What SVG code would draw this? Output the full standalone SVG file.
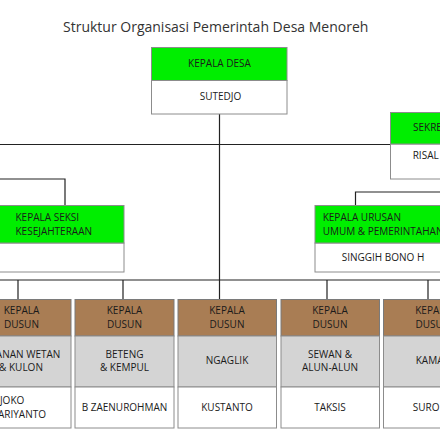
<svg xmlns="http://www.w3.org/2000/svg" width="440" height="440" viewBox="0 0 440 440">
<style>
text{font-family:"Open Sans","Liberation Sans",sans-serif;font-size:10px;fill:#1a1a1a}
.title{font-size:14px;fill:#333}
.c{text-anchor:middle}
.e{text-anchor:end}
.g{fill:#00ee00;stroke:#8c8c8c;stroke-width:1}
.w{fill:#fff;stroke:#8c8c8c;stroke-width:1}
.b{fill:#a97d54;stroke:#7a7a7a;stroke-width:1}
.s{fill:#d4d4d4;stroke:#8c8c8c;stroke-width:1}
.ln{fill:none;stroke:#222;stroke-width:1.2}
</style>
<rect width="440" height="440" fill="#fff"/>
<text class="title" x="63" y="31.5">Struktur Organisasi Pemerintah Desa Menoreh</text>
<g id="connectors">
<path class="ln" d="M219.5 114V299M0 144.5H390.5M0 280H440M65 206V179H0M355.5 206V192H440M18 280V299M123 280V299M327 280V299M428 280V299"/>
</g>
<g id="kepala-desa">
<rect class="w" x="151.5" y="80.5" width="135.5" height="33.5"/>
<rect class="g" x="151.5" y="47.5" width="135.5" height="33"/>
<text class="c" x="219.5" y="67">KEPALA DESA</text>
<text class="c" x="220.5" y="99.5">SUTEDJO</text>
</g>
<g id="sekretaris">
<rect class="w" x="390.5" y="144" width="60" height="35"/>
<rect class="g" x="390.5" y="112.5" width="60" height="31.5"/>
<text x="413" y="131">SEKRETARIS</text>
<text x="412.7" y="158.5">RISAL</text>
</g>
<g id="kasi-kesejahteraan">
<rect class="w" x="-10" y="243" width="134" height="29"/>
<rect class="g" x="-10" y="205.5" width="134" height="37.5"/>
<text x="15.5" y="221">KEPALA SEKSI</text>
<text x="15.5" y="234.5">KESEJAHTERAAN</text>
</g>
<g id="kaur-umum">
<rect class="w" x="315" y="243" width="136" height="29"/>
<rect class="g" x="315" y="205.5" width="136" height="37.5"/>
<text x="322.7" y="221">KEPALA URUSAN</text>
<text x="322.7" y="234.5">UMUM &amp; PEMERINTAHAN</text>
<text class="c" x="383" y="261">SINGGIH BONO H</text>
</g>
<g id="dusun-1">
<rect class="b" x="-28" y="299.5" width="99" height="36.5"/>
<rect class="s" x="-28" y="336" width="99" height="51"/>
<rect class="w" x="-28" y="387" width="99" height="41"/>
<text class="c" x="21.5" y="314">KEPALA</text>
<text class="c" x="21.5" y="327.5">DUSUN</text>
<text class="e" x="60.3" y="357.5">ANAN WETAN</text>
<text class="c" x="21" y="371">&amp; KULON</text>
<text class="e" x="24.3" y="404">JOKO</text>
<text class="e" x="46" y="417.5">ARIYANTO</text>
</g>
<g id="dusun-2">
<rect class="b" x="75" y="299.5" width="99" height="36.5"/>
<rect class="s" x="75" y="336" width="99" height="51"/>
<rect class="w" x="75" y="387" width="99" height="41"/>
<text class="c" x="124.5" y="314">KEPALA</text>
<text class="c" x="124.5" y="327.5">DUSUN</text>
<text class="c" x="124.5" y="357.5">BETENG</text>
<text class="c" x="124.5" y="371">&amp; KEMPUL</text>
<text class="c" x="124.5" y="411">B ZAENUROHMAN</text>
</g>
<g id="dusun-3">
<rect class="b" x="178" y="299.5" width="98.5" height="36.5"/>
<rect class="s" x="178" y="336" width="98.5" height="51"/>
<rect class="w" x="178" y="387" width="98.5" height="41"/>
<text class="c" x="227" y="314">KEPALA</text>
<text class="c" x="227" y="327.5">DUSUN</text>
<text class="c" x="227" y="364">NGAGLIK</text>
<text class="c" x="227" y="411">KUSTANTO</text>
</g>
<g id="dusun-4">
<rect class="b" x="281" y="299.5" width="98.5" height="36.5"/>
<rect class="s" x="281" y="336" width="98.5" height="51"/>
<rect class="w" x="281" y="387" width="98.5" height="41"/>
<text class="c" x="330" y="314">KEPALA</text>
<text class="c" x="330" y="327.5">DUSUN</text>
<text class="c" x="330" y="357.5">SEWAN &amp;</text>
<text class="c" x="330" y="371">ALUN-ALUN</text>
<text class="c" x="330" y="411">TAKSIS</text>
</g>
<g id="dusun-5">
<rect class="b" x="383.5" y="299.5" width="99" height="36.5"/>
<rect class="s" x="383.5" y="336" width="99" height="51"/>
<rect class="w" x="383.5" y="387" width="99" height="41"/>
<text class="c" x="433" y="314">KEPALA</text>
<text class="c" x="433" y="327.5">DUSUN</text>
<text x="415.7" y="364">KAMA</text>
<text x="412.7" y="411">SURO</text>
</g>
</svg>
